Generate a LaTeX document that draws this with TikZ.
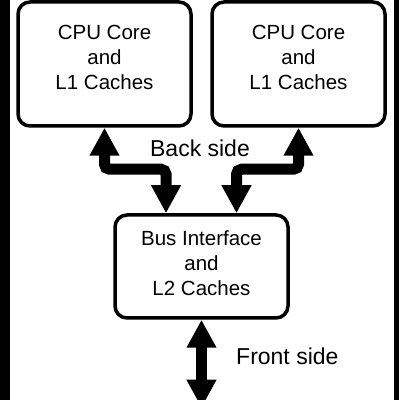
\documentclass[tikz,border=0pt]{standalone}
\usepackage{fontspec}
\setmainfont{Liberation Sans}
\usetikzlibrary{arrows.meta}
\usetikzlibrary{calc,positioning}

\tikzset{
    unitbox/.style={draw, line width=3.5pt, rounded corners=12pt,
        minimum width=173pt, inner sep=0pt},
    boxtext/.style={align=center, inner sep=0pt,
        font=\fontsize{20.5}{25}\selectfont},
    busarrow/.style={line width=11pt, rounded corners=5pt,
        {Triangle[length=28pt,width=28pt]}-{Triangle[length=28pt,width=28pt]}},
    sidelabel/.style={inner sep=0pt, font=\fontsize{23}{27}\selectfont}
}

\begin{document}
\begin{tikzpicture}[x=1pt,y=1pt]
    \useasboundingbox (0,0) rectangle (400,400);
    \clip (0,0) rectangle (400,400);
    % frame bars
    \fill (0,0) rectangle (10,400);
    \fill (394,0) rectangle (399,400);

    % the three units
    \node[unitbox, minimum height=124pt,
        label={[boxtext, yshift=6.5pt]center:CPU Core\\and\\L1 Caches}] (cpuA) at (104.5,336) {};
    \node[unitbox, minimum height=124pt,
        label={[boxtext, yshift=6.5pt]center:CPU Core\\and\\L1 Caches}] (cpuB) at (298.5,336) {};
    \node[unitbox, minimum height=103pt,
        label={[boxtext, yshift=3.5pt]center:Bus Interface\\and\\L2 Caches}] (bus) at (201.5,133.5) {};

    % back side links
    \coordinate (bsA) at ($(bus.north)+(-35.5,0)$);
    \coordinate (bsB) at ($(bus.north)+(35,0)$);
    \draw[busarrow] (cpuA.south) |- ($(bsA)+(0,44)$) -- (bsA);
    \draw[busarrow] (cpuB.south) |- ($(bsB)+(0,44)$) -- (bsB);
    \node[sidelabel] (back) at (200,252) {Back side};

    % front side link
    \coordinate (fsEnd) at ($(bus.south)+(0,-88)$);
    \draw[busarrow] (bus.south) -- (fsEnd);
    \node[sidelabel, anchor=west] (front) at (236,44) {Front side};
\end{tikzpicture}
\end{document}
